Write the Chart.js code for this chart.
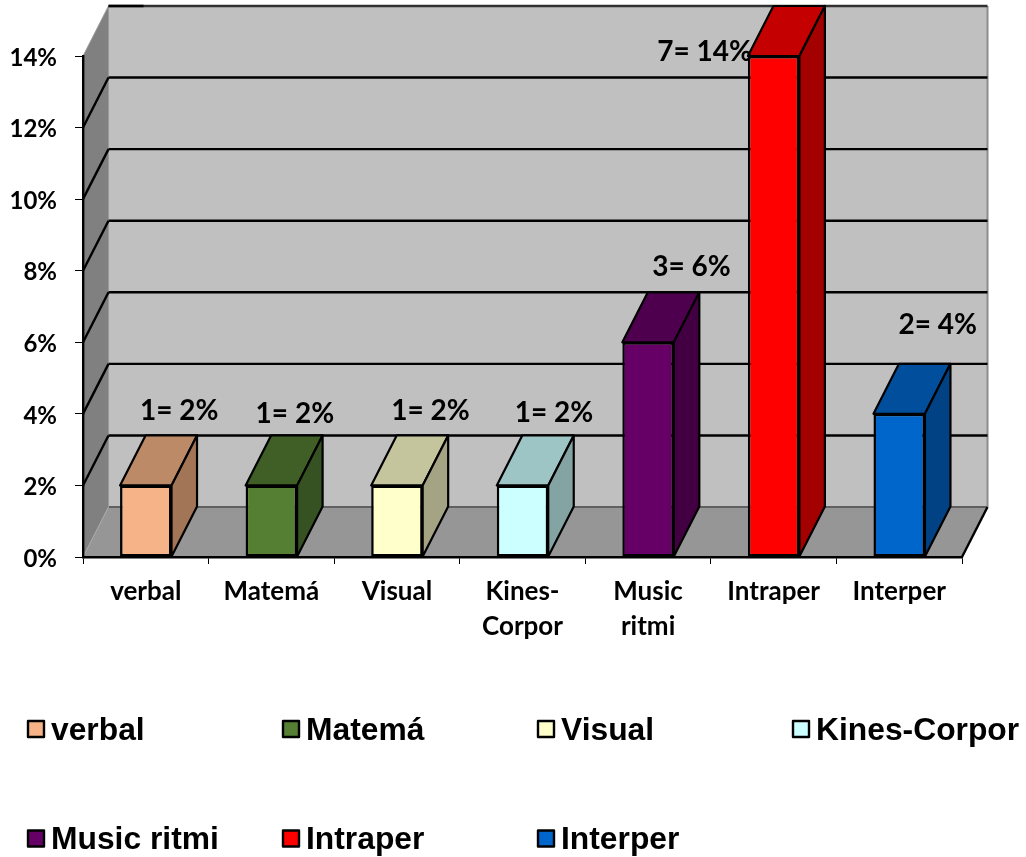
<!DOCTYPE html>
<html lang="es">
<head>
<meta charset="utf-8">
<title>Inteligencias</title>
<script src="https://cdn.jsdelivr.net/npm/chart.js@4"></script>
<style>
  html, body { margin: 0; padding: 0; background: #fff; }
  canvas { display: block; }
</style>
</head>
<body>
<canvas id="chart" width="1026" height="857"></canvas>
<script>
// Chart values
const categories = [["verbal"], ["Matemá"], ["Visual"], ["Kines-", "Corpor"], ["Music", "ritmi"], ["Intraper"], ["Interper"]];
const legendNames = ["verbal", "Matemá", "Visual", "Kines-Corpor", "Music ritmi", "Intraper", "Interper"];
const counts = [1, 1, 1, 1, 3, 7, 2];
const percents = [2, 2, 2, 2, 6, 14, 4];
const barColors = ["#F5B387", "#558033", "#FFFFCC", "#CCFFFF", "#660066", "#FF0000", "#0066CC"];
const topColors = ["#BD8A68", "#3F5F27", "#C5C59D", "#9DC5C5", "#4E004E", "#C40000", "#004E9C"];
const sideColors = ["#A17556", "#365222", "#A4A484", "#84A4A4", "#420042", "#A30000", "#004284"];

// Hand placement of each value label relative to its bar (centre x, top y)
const labelNudgeX = [33.5, 23.5, 33.5, 31.5, 43.5, -69, 38.5];
const labelNudgeY = [-74.5, -71.5, -74.5, -72.5, -75.5, -4.5, -88.5];

// Oblique depth of the box
const depthX = 25.5;
const depthY = 50;

const polygon = (ctx, pts, fill, stroke) => {
  ctx.beginPath();
  pts.forEach(([x, y], i) => (i ? ctx.lineTo(x, y) : ctx.moveTo(x, y)));
  ctx.closePath();
  if (fill) { ctx.fillStyle = fill; ctx.fill(); }
  if (stroke) { ctx.strokeStyle = stroke; ctx.lineWidth = 2.2; ctx.lineJoin = "round"; ctx.stroke(); }
};
const segment = (ctx, x1, y1, x2, y2, color, width) => {
  ctx.beginPath();
  ctx.moveTo(x1, y1);
  ctx.lineTo(x2, y2);
  ctx.strokeStyle = color;
  ctx.lineWidth = width;
  ctx.stroke();
};

// Side wall, back wall, floor and the gridlines running across them
const boxPlugin = {
  id: "box",
  beforeDraw(chart) {
    const { ctx, chartArea: a, scales: { y } } = chart;
    const backL = a.left + depthX, backR = a.right + depthX;
    const backT = a.top - depthY, backB = a.bottom - depthY;
    ctx.save();
    polygon(ctx, [[backL, backT], [backR, backT], [backR, backB], [backL, backB]], "#C0C0C0");
    polygon(ctx, [[a.left, a.top], [backL, backT], [backL, backB], [a.left, a.bottom]], "#808080");
    polygon(ctx, [[a.left, a.bottom], [backL, backB], [backR, backB], [a.right, a.bottom]], "#969696");
    segment(ctx, backL, backB, backR, backB, "#606060", 2);
    segment(ctx, backR, backT, backR, backB, "#8C8C8C", 2);
    segment(ctx, backL, backT, backL, backB, "#9A9A9A", 1);
    segment(ctx, a.left, a.bottom, backL, backB, "#A8A8A8", 1);
    segment(ctx, a.left, a.top, backL, backT, "#9A9A9A", 1);
    y.ticks.forEach(({ value }) => {
      const py = y.getPixelForValue(value);
      if (value > 0 && value < y.max) {
        segment(ctx, a.left, py, backL, py - depthY, "#000", 2.4);
        segment(ctx, backL, py - depthY, backR, py - depthY, "#000", 2.4);
      }
    });
    segment(ctx, backL, backT, backR, backT, "#303030", 2.4);
    segment(ctx, backL, backT, backL + 35, backT, "#000", 2.4);
    segment(ctx, a.right, a.bottom, backR, backB, "#000", 2.4);
    ctx.restore();
  }
};

// Top and side faces of every bar, followed by the value labels
const barFacesPlugin = {
  id: "barFaces",
  afterDatasetsDraw(chart) {
    const { ctx } = chart;
    ctx.save();
    chart.getDatasetMeta(0).data.forEach((bar, i) => {
      const half = bar.width / 2;
      const l = bar.x - half, r = bar.x + half;
      polygon(ctx, [[l, bar.y], [r, bar.y], [r + depthX, bar.y - depthY], [l + depthX, bar.y - depthY]], topColors[i], "#000");
      polygon(ctx, [[r, bar.y], [r + depthX, bar.y - depthY], [r + depthX, bar.base - depthY], [r, bar.base]], sideColors[i], "#000");
    });
    ctx.fillStyle = "#000";
    ctx.font = "bold 28px Lato";
    ctx.textAlign = "center";
    ctx.textBaseline = "middle";
    chart.getDatasetMeta(0).data.forEach((bar, i) => {
      ctx.fillText(`${counts[i]}= ${percents[i]}%`, bar.x + labelNudgeX[i], bar.y + labelNudgeY[i]);
    });
    ctx.restore();
  }
};

// Four-column key under the plot
const keyPlugin = {
  id: "key",
  afterDraw(chart) {
    const { ctx } = chart;
    const columnStep = 255, firstColumn = 28, rows = [721, 830.5];
    ctx.save();
    ctx.font = "bold 31.8px 'Liberation Sans'";
    ctx.textAlign = "left";
    ctx.textBaseline = "alphabetic";
    legendNames.forEach((name, i) => {
      const x = firstColumn + columnStep * (i % 4);
      const top = rows[Math.floor(i / 4)];
      ctx.fillStyle = barColors[i];
      ctx.fillRect(x, top, 16, 16);
      ctx.strokeStyle = "#000";
      ctx.lineWidth = 2.4;
      ctx.lineJoin = "round";
      ctx.strokeRect(x, top, 16, 16);
      ctx.fillStyle = "#000";
      ctx.fillText(name, x + 23, top + 18.5);
    });
    ctx.restore();
  }
};

new Chart(document.getElementById("chart"), {
  type: "bar",
  data: {
    labels: categories,
    datasets: [{
      data: percents,
      backgroundColor: barColors,
      borderColor: "#000",
      borderWidth: 2.5,
      borderSkipped: false,
      barPercentage: 0.41,
      categoryPercentage: 1
    }]
  },
  options: {
    responsive: false,
    animation: false,
    layout: { padding: { top: 56, right: 64, left: 0, bottom: 0 } },
    plugins: { legend: { display: false }, tooltip: { enabled: false } },
    scales: {
      x: {
        afterFit(scale) { scale.height = 300; },
        grid: { drawOnChartArea: false, color: "#000", lineWidth: 1, tickLength: 7 },
        border: { color: "#000", width: 2.4 },
        ticks: { color: "#000", font: { family: "Lato", weight: "bold", size: 26, lineHeight: 1.35 }, padding: 10, maxRotation: 0, autoSkip: false }
      },
      y: {
        min: 0,
        max: 14,
        afterFit(scale) { scale.width = 83; },
        grid: { drawOnChartArea: false, color: "#000", lineWidth: 1, tickLength: 8 },
        border: { color: "#000", width: 2.4 },
        ticks: { stepSize: 2, color: "#000", font: { family: "Lato", weight: "bold", size: 24 }, padding: 18, labelOffset: 2, callback: v => v + "%" }
      }
    }
  },
  plugins: [boxPlugin, barFacesPlugin, keyPlugin]
});
</script>
</body>
</html>
